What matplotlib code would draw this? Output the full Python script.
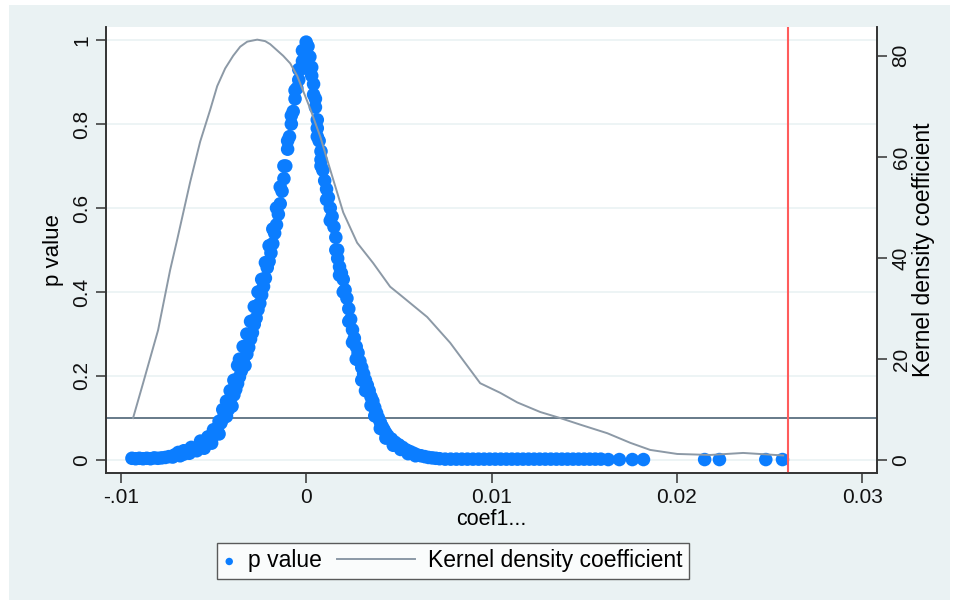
import numpy as np
import matplotlib.pyplot as plt
from matplotlib.patches import Rectangle
from matplotlib.legend_handler import HandlerLine2D

plt.rcParams['font.family'] = ['Liberation Sans', 'DejaVu Sans']

# p value of coefficient (scatter)
coef = [-0.0094, -0.0092, -0.0090, -0.0088, -0.0086, -0.0084, -0.0082, -0.0080, -0.0078, -0.0076,
        -0.0074, -0.0072, -0.0071, -0.0069, -0.0068, -0.0066, -0.0064, -0.0063, -0.0061, -0.0059,
        -0.0058, -0.0056, -0.0055, -0.0054, -0.0052, -0.0051, -0.0050, -0.0049, -0.0048, -0.0047,
        -0.0046, -0.0045, -0.0044, -0.0043, -0.0042, -0.0041, -0.0040, -0.0039, -0.0038, -0.0037,
        -0.0036, -0.0035, -0.0034, -0.0033, -0.0032, -0.0031, -0.0030, -0.0029, -0.0028, -0.0027,
        -0.0026, -0.0025, -0.0024, -0.0023, -0.0022, -0.0021, -0.0020, -0.0019, -0.0018, -0.0017,
        -0.0016, -0.0015, -0.0014, -0.0013, -0.0012, -0.0011, -0.0010, -0.0009, -0.0008, -0.0007,
        -0.0006, -0.0005, -0.0004, -0.0003, -0.0002, -0.0001, 0.0000,
        0.0001, 0.0002, 0.0003, 0.0003, 0.0004, 0.0005, 0.0005, 0.0006, 0.0006, 0.0007,
        0.0008, 0.0008, 0.0009, 0.0010, 0.0011, 0.0012, 0.0013, 0.0014, 0.0015, 0.0016,
        0.0017, 0.0017, 0.0018, 0.0019, 0.0020, 0.0021, 0.0022, 0.0023, 0.0024, 0.0025,
        0.0026, 0.0027, 0.0028, 0.0029, 0.0030, 0.0031, 0.0032, 0.0033, 0.0034, 0.0035,
        0.0036, 0.0037, 0.0038, 0.0039, 0.0040, 0.0041, 0.0042, 0.0043, 0.0044, 0.0046,
        0.0048, 0.0050, 0.0052, 0.0054, 0.0056, 0.0058, 0.0060, 0.0062, 0.0064, 0.0066,
        0.0068, 0.0070, 0.0072, 0.0075, 0.0078, 0.0081, 0.0084, 0.0087, 0.0090, 0.0093,
        0.0096, 0.0099, 0.0102, 0.0105, 0.0108, 0.0111, 0.0114, 0.0117, 0.0120, 0.0123,
        0.0126, 0.0129, 0.0132, 0.0135, 0.0138, 0.0141, 0.0144, 0.0147, 0.0150, 0.0153,
        0.0156, 0.0159, 0.0163, 0.0169, 0.0176, 0.0182, 0.0215, 0.0223, 0.0248, 0.0257]
pval = [0.004, 0.003, 0.004, 0.003, 0.004, 0.003, 0.005, 0.004, 0.005, 0.006,
        0.008, 0.007, 0.012, 0.018, 0.010, 0.014, 0.020, 0.016, 0.025, 0.022,
        0.030, 0.036, 0.028, 0.042, 0.048, 0.040, 0.058, 0.066, 0.075, 0.062,
        0.088, 0.098, 0.110, 0.104, 0.120, 0.135, 0.128, 0.155, 0.168, 0.182,
        0.198, 0.212, 0.236, 0.225, 0.252, 0.268, 0.288, 0.303, 0.323, 0.338,
        0.358, 0.373, 0.393, 0.413, 0.433, 0.458, 0.473, 0.493, 0.515, 0.540,
        0.560, 0.585, 0.610, 0.640, 0.670, 0.700, 0.740, 0.770, 0.800, 0.830,
        0.860, 0.885, 0.905, 0.930, 0.950, 0.975, 0.995,
        0.985, 0.960, 0.935, 0.915, 0.895, 0.860, 0.840, 0.810, 0.790, 0.760,
        0.735, 0.715, 0.690, 0.665, 0.645, 0.625, 0.600, 0.580, 0.555, 0.530,
        0.500, 0.480, 0.460, 0.445, 0.430, 0.405, 0.385, 0.360, 0.335, 0.310,
        0.290, 0.270, 0.255, 0.235, 0.220, 0.205, 0.190, 0.178, 0.165, 0.150,
        0.140, 0.125, 0.112, 0.100, 0.090, 0.080, 0.072, 0.064, 0.058, 0.050,
        0.042, 0.036, 0.030, 0.024, 0.020, 0.016, 0.012, 0.010, 0.008, 0.006,
        0.005, 0.004, 0.003, 0.002, 0.002, 0.002, 0.002, 0.002, 0.002, 0.002,
        0.002, 0.002, 0.002, 0.002, 0.002, 0.002, 0.002, 0.002, 0.002, 0.002,
        0.002, 0.002, 0.002, 0.002, 0.002, 0.002, 0.002, 0.002, 0.002, 0.002,
        0.002, 0.002, 0.001, 0.001, 0.001, 0.001, 0.001, 0.001, 0.001, 0.001]

# further simulations lying along the outer edge of the band
coef_b = [-0.0066, -0.0062, -0.0057, -0.0053, -0.0050, -0.0047, -0.0045, -0.0043, -0.0041,
          -0.0039, -0.0037, -0.0036, -0.0034, -0.0032, -0.0030, -0.0028, -0.0026, -0.0024,
          -0.0022, -0.0020, -0.0018, -0.0016, -0.0014, -0.0012, -0.0010, -0.0008, -0.0006,
          -0.0004, -0.0002,
          0.0002, 0.0004, 0.0006, 0.0008, 0.0011, 0.0013, 0.0016, 0.0018, 0.0020, 0.0023,
          0.0025, 0.0027, 0.0030, 0.0032, 0.0035, 0.0037, 0.0040, 0.0043, 0.0047, 0.0051,
          0.0055, 0.0059]
pval_b = [0.022, 0.030, 0.045, 0.055, 0.072, 0.092, 0.120, 0.140, 0.165,
          0.190, 0.225, 0.240, 0.270, 0.300, 0.330, 0.365, 0.400, 0.430,
          0.470, 0.510, 0.550, 0.600, 0.650, 0.700, 0.760, 0.820, 0.880,
          0.930, 0.975,
          0.930, 0.870, 0.770, 0.700, 0.620, 0.570, 0.500, 0.440, 0.400, 0.330,
          0.280, 0.240, 0.190, 0.165, 0.130, 0.105, 0.075, 0.052, 0.035, 0.025,
          0.015, 0.010]

# kernel density of coefficient
kd_x = [-0.00934, -0.00880, -0.00799, -0.00734, -0.00696, -0.00626, -0.00572, -0.00518,
        -0.00480, -0.00437, -0.00394, -0.00356, -0.00318, -0.00264, -0.00221, -0.00194,
        -0.00124, -0.00086, -0.00048, 0.00022, 0.00076, 0.00146, 0.00200, 0.00275,
        0.00361, 0.00453, 0.00507, 0.00653, 0.00777, 0.00939, 0.01047, 0.01139,
        0.01263, 0.01371, 0.01479, 0.01625, 0.01749, 0.01856, 0.02002, 0.02180,
        0.02358, 0.02574]
kd_y = [8.3, 15.2, 25.7, 37.6, 43.6, 55.0, 63.0, 69.3,
        74.0, 77.5, 80.0, 81.8, 82.8, 83.2, 82.9, 82.3,
        80.0, 78.5, 76.0, 69.5, 64.0, 55.5, 49.0, 43.0,
        39.0, 34.3, 32.7, 28.3, 23.2, 15.2, 13.3, 11.4,
        9.5, 8.3, 7.0, 5.3, 3.4, 2.0, 1.2, 1.0,
        1.4, 0.9]

p_cut = 0.1
coef_true = 0.0260

xticks = [-0.01, 0, 0.01, 0.02, 0.03]
xtick_labels = ['-.01', '0', '0.01', '0.02', '0.03']
yticks = [0, 0.2, 0.4, 0.6, 0.8, 1]
ytick_labels = ['0', '0.2', '0.4', '0.6', '0.8', '1']
y2ticks = [0, 20, 40, 60, 80]

dot_color = '#0b7dff'
bg = '#eaf2f3'


class LongLine(HandlerLine2D):
    # legend line that reaches further left than the handle box
    def __init__(self, extra, **kw):
        super().__init__(**kw)
        self.extra = extra

    def get_xdata(self, legend, xdescent, ydescent, width, height, fontsize):
        xdata = np.array([-xdescent - self.extra, -xdescent + width])
        return xdata, np.array([-xdescent + width / 2])


fig = plt.figure(figsize=(9.58, 6.05), dpi=100)
fig.patches.append(Rectangle((9 / 958, 5 / 605), 941 / 958, 595 / 605,
                             transform=fig.transFigure, facecolor=bg,
                             edgecolor='none', zorder=-10))

ax = fig.add_axes([106 / 958, 1 - 473 / 605, 771 / 958, 446 / 605])
ax.set_facecolor('white')

for t in yticks:
    ax.axhline(t, color=bg, lw=1.2, zorder=0)
ax.axhline(p_cut, color='#5b6f80', lw=1.3, zorder=1)
ax.scatter(coef_b, pval_b, s=95, color=dot_color, edgecolors='none', zorder=2)
ax.scatter(coef, pval, s=95, color=dot_color, edgecolors='none', zorder=2,
           label='p value')
ax.axvline(coef_true, color='#ff5c5c', lw=1.5, zorder=5)

ax.set_xlim(-0.0108, 0.0308)
ax.set_ylim(-0.031, 1.031)
ax.set_xticks(xticks)
ax.set_xticklabels(xtick_labels)
ax.set_yticks(yticks)
ax.set_yticklabels(ytick_labels, rotation=90, va='center')
ax.set_xlabel('coef1...', fontsize=15.5, labelpad=2)
ax.set_ylabel('p value', fontsize=16, labelpad=6)

ax2 = ax.twinx()
ax2.plot(kd_x, kd_y, color='#8c99a6', lw=1.4, zorder=3,
         solid_joinstyle='round', label='Kernel density coefficient')
ax2.set_ylim(-2.57, 85.7)
ax2.set_yticks(y2ticks)
ax2.set_yticklabels([str(v) for v in y2ticks], rotation=90, va='center')
ax2.set_ylabel('Kernel density coefficient', fontsize=16.5, labelpad=1)

for a in (ax, ax2):
    a.spines['top'].set_visible(False)
    for s in ('left', 'right', 'bottom'):
        a.spines[s].set_color('#333333')
        a.spines[s].set_linewidth(1.2)
    a.tick_params(direction='out', length=7, width=1.1, color='#333333',
                  labelsize=15, labelcolor='#111111')

h1, l1 = ax.get_legend_handles_labels()
h2, l2 = ax2.get_legend_handles_labels()
leg = fig.legend(h1 + h2, l1 + l2, loc='center', ncol=2,
                 bbox_to_anchor=(453 / 958, 1 - 561 / 605), fontsize=16.5,
                 frameon=True, fancybox=False, markerscale=0.55,
                 handlelength=0.5, columnspacing=3.6, handletextpad=0.55,
                 borderpad=0.3, borderaxespad=0,
                 handler_map={h2[0]: LongLine(extra=48)})
leg.get_frame().set_edgecolor('#333333')
leg.get_frame().set_linewidth(1.0)

fig.savefig('out.png', dpi=100)
